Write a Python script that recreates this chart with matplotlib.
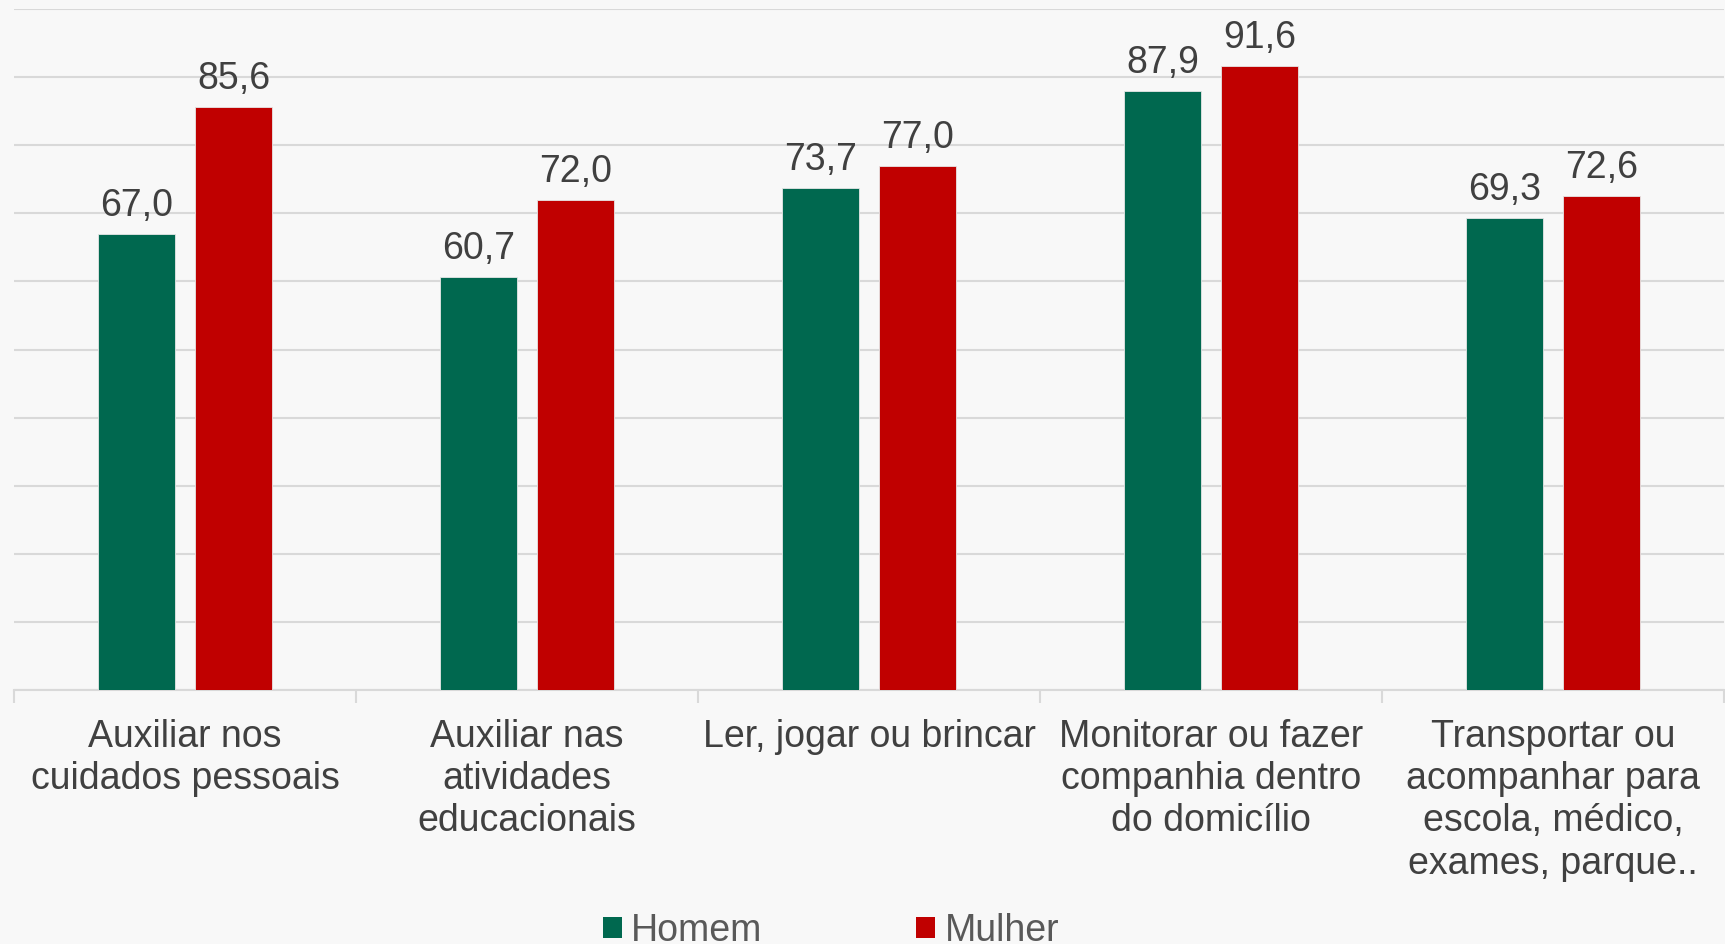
import numpy as np
import matplotlib.pyplot as plt
from matplotlib.patches import Patch

# --- data ---
categorias = [
    'Auxiliar nos\ncuidados pessoais',
    'Auxiliar nas\natividades\neducacionais',
    'Ler, jogar ou brincar',
    'Monitorar ou fazer\ncompanhia dentro\ndo domicílio',
    'Transportar ou\nacompanhar para\nescola, médico,\nexames, parque..',
]
homem = [67.0, 60.7, 73.7, 87.9, 69.3]
mulher = [85.6, 72.0, 77.0, 91.6, 72.6]
series = ['Homem', 'Mulher']

VERDE = '#00684f'
VERMELHO = '#c00000'
FUNDO = '#f8f8f8'
GRADE = '#d9d9d9'

plt.rcParams['font.family'] = ['Liberation Sans', 'DejaVu Sans']

W, H = 1725, 944
fig = plt.figure(figsize=(W / 100, H / 100), dpi=100, facecolor=FUNDO)
ax = fig.add_axes([14 / W, (H - 690) / H, 1710 / W, 681 / H], facecolor=FUNDO)

x = np.arange(len(categorias))
largura = 0.225
desloc = 0.142

b1 = ax.bar(x - desloc, homem, largura, color=VERDE, edgecolor='#e6e6e6', linewidth=0.6, zorder=3)
b2 = ax.bar(x + desloc, mulher, largura, color=VERMELHO, edgecolor='#e6e6e6', linewidth=0.6, zorder=3)

for barras in (b1, b2):
    for b in barras:
        ax.annotate(f'{b.get_height():.1f}'.replace('.', ','),
                    (b.get_x() + b.get_width() / 2, b.get_height()),
                    xytext=(0, 13), textcoords='offset points',
                    ha='center', va='baseline', fontsize=27, color='#404040')

ax.set_xlim(-0.5, len(categorias) - 0.5)
ax.set_ylim(0, 100)
ax.set_yticks(np.arange(0, 101, 10))
ax.yaxis.grid(True, color=GRADE, linewidth=1.5, zorder=0)
ax.tick_params(axis='y', left=False, labelleft=False)

# categorias: rótulos no centro, ticks nas divisões
ax.set_xticks(x)
ax.set_xticklabels(categorias, fontsize=27, color='#404040', linespacing=1.22)
ax.tick_params(axis='x', which='major', length=0, pad=21)
ax.set_xticks(np.arange(-0.5, len(categorias)), minor=True)
ax.tick_params(axis='x', which='minor', length=9, width=1.5, color=GRADE)

for lado in ('left', 'right', 'top'):
    ax.spines[lado].set_visible(False)
ax.spines['bottom'].set_color(GRADE)
ax.spines['bottom'].set_linewidth(1.5)

handles = [Patch(facecolor=VERDE), Patch(facecolor=VERMELHO)]
leg = fig.legend(handles, series, loc='center', bbox_to_anchor=(831 / W, 13 / H),
                 ncol=2, frameon=False, fontsize=27, handlelength=0.5, handleheight=0.5,
                 handletextpad=0.25, columnspacing=4.1, borderaxespad=0)
for t in leg.get_texts():
    t.set_color('#595959')

fig.savefig('out.png', dpi=100, facecolor=FUNDO)
